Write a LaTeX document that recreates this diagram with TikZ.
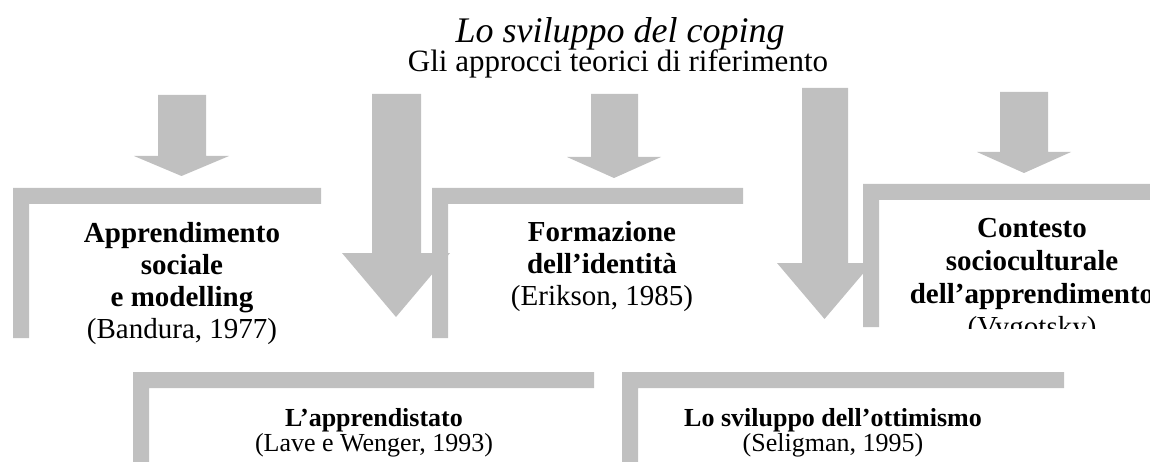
\documentclass[tikz,border=0pt]{standalone}
\usepackage{fontspec}
\setmainfont{Liberation Serif}
\definecolor{bargray}{RGB}{192,192,192}
% arrow: shaft left, shaft right, top, head start, head left, head right, tip y
\newcommand\grayarrow[7]{\fill[bargray] (#1,#3) -- (#2,#3) -- (#2,#4) -- (#6,#4) -- ({(#5+#6)/2},#7) -- (#5,#4) -- (#1,#4) -- cycle;}
% L bar: left x, top y, right x, bottom y, thickness
\newcommand\graylbar[5]{\fill[bargray] (#1,#2) -- (#3,#2) -- (#3,{#2+#5}) -- ({#1+#5},{#2+#5}) -- ({#1+#5},#4) -- (#1,#4) -- cycle;}
\begin{document}
\begin{tikzpicture}[x=1pt,y=-1pt,
  boxlabel/.style={anchor=north,inner sep=0pt,align=center,font=\fontsize{29}{32}\selectfont},
  lowlabel/.style={anchor=north,inner sep=0pt,align=center,font=\fontsize{26}{25}\selectfont}]
\useasboundingbox (0,0) rectangle (1150,462);
\clip (0,0) rectangle (1150,462);
\fill[white] (0,0) rectangle (1150,462);
% titles
\node (title) at (620,43) [anchor=base,inner sep=0pt,font=\fontsize{36}{36}\selectfont\itshape] {Lo sviluppo del coping};
\node (subtitle) at (618,72) [anchor=base,inner sep=0pt,font=\fontsize{31}{31}\selectfont] {Gli approcci teorici di riferimento};
% arrows
\grayarrow{158}{206}{95}{156}{134}{229}{176}
\grayarrow{372}{421}{94}{253}{342}{450}{317}
\grayarrow{591}{638}{94}{157}{567}{661}{178}
\grayarrow{802}{848}{88}{263}{777}{872}{319}
\grayarrow{1000}{1048}{92}{152}{977}{1071}{173}
% upper boxes
\graylbar{13}{188}{321}{338}{16}
\graylbar{432}{188}{743}{338}{16}
\graylbar{863}{184}{1150}{327}{16}
\node[boxlabel] (box1) at (182,222) {\textbf{Apprendimento}\\\textbf{sociale}\\\textbf{e modelling}\\(Bandura, 1977)};
\node[boxlabel] (box2) at (602,221) {\textbf{Formazione}\\\textbf{dell’identità}\\(Erikson, 1985)};
\begin{scope}
\clip (863,184) rectangle (1150,328);
\node[boxlabel,font=\fontsize{29}{33}\selectfont] (box3) at (1032,218.5) {\textbf{Contesto}\\\textbf{socioculturale}\\\textbf{dell’apprendimento}\\(Vygotsky)};
\end{scope}
% lower boxes
\graylbar{133}{372}{594}{470}{16}
\graylbar{622}{372}{1064}{470}{16}
\node[lowlabel] (box4) at (374,408) {\textbf{L’apprendistato}\\(Lave e Wenger, 1993)};
\node[lowlabel] (box5) at (833,408) {\textbf{Lo sviluppo dell’ottimismo}\\(Seligman, 1995)};
\end{tikzpicture}
\end{document}
